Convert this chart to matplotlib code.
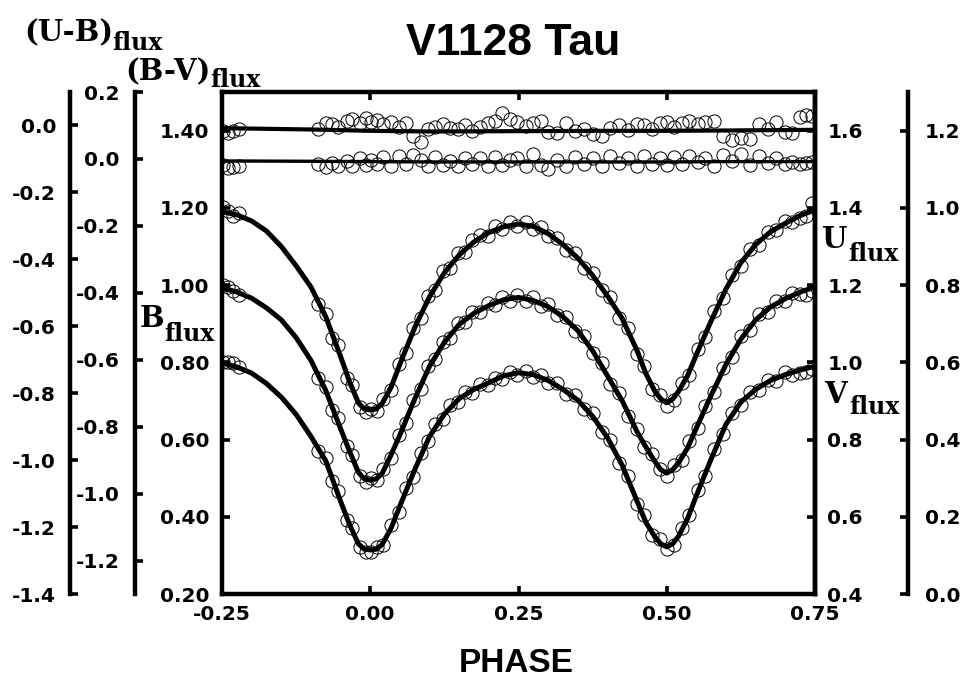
import matplotlib
matplotlib.use("Agg")
import matplotlib.pyplot as plt
from matplotlib.ticker import FixedLocator, FormatStrFormatter

# fitted light curves
fit_phase = [-0.25, -0.225, -0.2, -0.175, -0.15, -0.125, -0.1, -0.075, -0.05, -0.035,
             -0.02, -0.01, 0.0, 0.01, 0.02, 0.035, 0.05, 0.075, 0.1, 0.125, 0.15, 0.175,
             0.2, 0.225, 0.25, 0.275, 0.3, 0.325, 0.35, 0.375, 0.4, 0.425, 0.45, 0.465,
             0.48, 0.49, 0.5, 0.51, 0.52, 0.535, 0.55, 0.575, 0.6, 0.625, 0.65, 0.675,
             0.7, 0.725, 0.75]
fit_U = [1.390, 1.382, 1.366, 1.340, 1.300, 1.250, 1.195, 1.118, 1.015, 0.950,
         0.895, 0.879, 0.877, 0.879, 0.893, 0.935, 0.995, 1.090, 1.170, 1.232, 1.278, 1.312,
         1.336, 1.351, 1.358, 1.352, 1.333, 1.305, 1.270, 1.225, 1.172, 1.113, 1.030, 0.970,
         0.925, 0.905, 0.895, 0.905, 0.925, 0.965, 1.020, 1.108, 1.190, 1.258, 1.305, 1.338,
         1.360, 1.380, 1.395]
fit_B = [0.993, 0.982, 0.966, 0.941, 0.910, 0.864, 0.805, 0.727, 0.628, 0.570,
         0.515, 0.498, 0.495, 0.498, 0.512, 0.560, 0.612, 0.705, 0.790, 0.852, 0.898, 0.927,
         0.947, 0.962, 0.968, 0.960, 0.944, 0.918, 0.882, 0.830, 0.765, 0.700, 0.620, 0.580,
         0.543, 0.522, 0.513, 0.522, 0.540, 0.578, 0.630, 0.715, 0.795, 0.860, 0.910, 0.943,
         0.965, 0.982, 0.995]
fit_V = [0.598, 0.588, 0.572, 0.545, 0.510, 0.465, 0.408, 0.345, 0.240, 0.180,
         0.130, 0.116, 0.114, 0.116, 0.128, 0.170, 0.228, 0.322, 0.408, 0.466, 0.506, 0.530,
         0.547, 0.565, 0.573, 0.568, 0.553, 0.530, 0.502, 0.460, 0.405, 0.333, 0.240, 0.185,
         0.148, 0.130, 0.122, 0.130, 0.150, 0.195, 0.255, 0.350, 0.440, 0.497, 0.530, 0.553,
         0.568, 0.580, 0.590]

color_phase = [-0.25, -0.1, 0.0, 0.1, 0.25, 0.4, 0.5, 0.6, 0.75]
fit_UB = [-0.008, -0.012, -0.016, -0.018, -0.017, -0.016, -0.016, -0.015, -0.013]
fit_BV = [-0.006, -0.007, -0.008, -0.009, -0.009, -0.009, -0.009, -0.008, -0.008]

# observations
obs_phase = [-0.248, -0.240, -0.232, -0.222, -0.088, -0.075, -0.064, -0.055, -0.040, -0.030,
             -0.018, -0.008, 0.002, 0.012, 0.022, 0.035, 0.048, 0.060, 0.072, 0.085,
             0.098, 0.110, 0.122, 0.135, 0.148, 0.160, 0.172, 0.185, 0.198, 0.210,
             0.222, 0.235, 0.248, 0.262, 0.275, 0.288, 0.300, 0.315, 0.330, 0.345,
             0.360, 0.375, 0.390, 0.405, 0.420, 0.435, 0.450, 0.462, 0.475, 0.488,
             0.500, 0.512, 0.525, 0.538, 0.552, 0.565, 0.580, 0.595, 0.610, 0.625,
             0.640, 0.655, 0.670, 0.685, 0.700, 0.712, 0.725, 0.735, 0.745]
obs_U = [1.401, 1.392, 1.380, 1.386, 1.150, 1.125, 1.062, 1.045, 0.960, 0.942,
         0.884, 0.872, 0.880, 0.874, 0.905, 0.928, 0.995, 1.025, 1.088, 1.115,
         1.172, 1.188, 1.236, 1.244, 1.284, 1.286, 1.318, 1.330, 1.328, 1.352,
         1.345, 1.363, 1.352, 1.364, 1.346, 1.350, 1.326, 1.322, 1.290, 1.284,
         1.245, 1.232, 1.186, 1.168, 1.116, 1.088, 1.022, 0.990, 0.932, 0.915,
         0.888, 0.902, 0.946, 0.968, 1.035, 1.066, 1.132, 1.166, 1.226, 1.250,
         1.294, 1.305, 1.338, 1.342, 1.366, 1.364, 1.374, 1.380, 1.412]
obs_B = [1.000, 0.995, 0.984, 0.975, 0.760, 0.735, 0.676, 0.656, 0.582, 0.560,
         0.506, 0.491, 0.500, 0.494, 0.525, 0.552, 0.612, 0.642, 0.702, 0.732,
         0.790, 0.808, 0.852, 0.864, 0.902, 0.904, 0.931, 0.929, 0.954, 0.948,
         0.968, 0.960, 0.975, 0.958, 0.968, 0.946, 0.950, 0.922, 0.918, 0.882,
         0.868, 0.824, 0.798, 0.745, 0.720, 0.661, 0.628, 0.581, 0.563, 0.524,
         0.506, 0.533, 0.546, 0.595, 0.630, 0.688, 0.724, 0.786, 0.814, 0.867,
         0.884, 0.924, 0.930, 0.958, 0.958, 0.980, 0.976, 0.975, 0.985]
obs_V = [0.602, 0.600, 0.598, 0.588, 0.370, 0.352, 0.292, 0.268, 0.192, 0.170,
         0.121, 0.110, 0.108, 0.122, 0.128, 0.178, 0.212, 0.274, 0.304, 0.364,
         0.395, 0.440, 0.452, 0.490, 0.496, 0.524, 0.520, 0.545, 0.540, 0.560,
         0.557, 0.575, 0.566, 0.578, 0.562, 0.566, 0.546, 0.546, 0.517, 0.515,
         0.478, 0.468, 0.420, 0.398, 0.340, 0.305, 0.232, 0.204, 0.152, 0.142,
         0.116, 0.128, 0.172, 0.204, 0.270, 0.305, 0.376, 0.414, 0.470, 0.490,
         0.524, 0.528, 0.554, 0.552, 0.575, 0.568, 0.572, 0.576, 0.582]
obs_UB = [-0.018, -0.022, -0.016, -0.012, -0.010, 0.008, 0.004, -0.006, 0.012, 0.020,
          0.006, 0.022, 0.010, 0.016, 0.004, 0.010, -0.004, 0.006, -0.030, -0.050,
          -0.012, -0.006, 0.004, -0.008, -0.010, 0.002, -0.016, -0.004, 0.006, 0.014,
          0.036, 0.018, 0.010, -0.002, 0.008, 0.012, -0.020, -0.024, 0.006, -0.018,
          -0.010, -0.026, -0.030, -0.008, 0.000, -0.014, 0.004, 0.002, -0.010, 0.006,
          0.010, -0.004, 0.008, 0.012, 0.004, 0.010, 0.014, -0.030, -0.044, -0.036,
          -0.040, 0.004, -0.012, 0.010, -0.020, -0.022, 0.024, 0.030, 0.028]
obs_BV = [-0.018, -0.028, -0.024, -0.022, -0.016, -0.024, -0.012, -0.020, -0.006, -0.022,
          0.004, -0.018, -0.002, -0.016, 0.006, -0.020, 0.008, -0.014, 0.012, -0.004,
          -0.020, 0.006, -0.018, -0.006, -0.022, 0.004, -0.016, 0.002, -0.020, 0.006,
          -0.018, -0.004, 0.004, -0.022, 0.014, -0.018, -0.030, -0.002, -0.020, 0.006,
          -0.016, 0.002, -0.022, 0.008, -0.012, 0.004, -0.020, 0.008, -0.016, 0.002,
          -0.018, 0.006, -0.014, 0.010, -0.008, 0.004, -0.020, 0.012, -0.006, 0.014,
          -0.018, 0.010, -0.012, 0.004, -0.016, -0.010, -0.014, -0.012, -0.008]

plt.rcParams['font.family'] = ['DejaVu Sans']
plt.rcParams['font.weight'] = 'bold'

W, H = 969, 682
fig = plt.figure(figsize=(W / 100, H / 100), dpi=100)
x0, x1, y0, y1 = 222, 815, 92, 594
ax = fig.add_axes([x0 / W, 1 - y1 / H, (x1 - x0) / W, (y1 - y0) / H])
ax_u = ax.twinx()
ax_v = ax.twinx()
ax_bv = ax.twinx()
ax_ub = ax.twinx()

spine_w = 3.2
tick_kw = dict(direction='in', length=6, width=2.6, labelsize=14.5, pad=9)
mk = dict(marker='o', ms=9.5, mfc='none', mec='black', mew=0.7, ls='none', zorder=2)
ln = dict(color='black', solid_capstyle='butt', zorder=3)

# main frame: B flux and phase
ax.set_xlim(-0.25, 0.75)
ax.set_ylim(0.2, 1.5)
ax.plot(obs_phase, obs_B, **mk)
ax.plot(fit_phase, fit_B, lw=3.6, **ln)
ax.xaxis.set_major_locator(FixedLocator([-0.25, 0.0, 0.25, 0.5, 0.75]))
ax.xaxis.set_major_formatter(FormatStrFormatter('%.2f'))
ax.yaxis.set_major_locator(FixedLocator([0.2, 0.4, 0.6, 0.8, 1.0, 1.2, 1.4]))
ax.yaxis.set_major_formatter(FormatStrFormatter('%.2f'))
ax.tick_params(axis='both', **tick_kw)
ax.tick_params(axis='x', top=True, pad=8)
for s in ax.spines.values():
    s.set_linewidth(spine_w)

# U flux on the inner right axis
ax_u.set_ylim(0.4, 1.7)
ax_u.plot(obs_phase, obs_U, **mk)
ax_u.plot(fit_phase, fit_U, lw=3.6, **ln)
ax_u.yaxis.set_major_locator(FixedLocator([0.4, 0.6, 0.8, 1.0, 1.2, 1.4, 1.6]))
ax_u.yaxis.set_major_formatter(FormatStrFormatter('%.1f'))
ax_u.tick_params(axis='y', **tick_kw)

# V flux on the outer right axis
ax_v.set_ylim(0.0, 1.3)
ax_v.plot(obs_phase, obs_V, **mk)
ax_v.plot(fit_phase, fit_V, lw=3.6, **ln)
ax_v.spines['right'].set_position(('axes', (908 - x0) / (x1 - x0)))
ax_v.yaxis.set_major_locator(FixedLocator([0.0, 0.2, 0.4, 0.6, 0.8, 1.0, 1.2]))
ax_v.yaxis.set_major_formatter(FormatStrFormatter('%.1f'))
ax_v.tick_params(axis='y', **tick_kw)
ax_v.tick_params(axis='y', pad=12)

# (B-V) on the inner left axis
ax_bv.set_ylim(-1.3, 0.2)
ax_bv.plot(obs_phase, obs_BV, **mk)
ax_bv.plot(color_phase, fit_BV, lw=2.4, **ln)
ax_bv.yaxis.tick_left()
ax_bv.yaxis.set_label_position('left')
ax_bv.spines['left'].set_position(('axes', (135 - x0) / (x1 - x0)))
ax_bv.yaxis.set_major_locator(FixedLocator([0.2, 0.0, -0.2, -0.4, -0.6, -0.8, -1.0, -1.2]))
ax_bv.yaxis.set_major_formatter(FormatStrFormatter('%.1f'))
ax_bv.tick_params(axis='y', **tick_kw)
ax_bv.tick_params(axis='y', pad=11)

# (U-B) on the outer left axis
ax_ub.set_ylim(-1.4, 0.1)
ax_ub.plot(obs_phase, obs_UB, **mk)
ax_ub.plot(color_phase, fit_UB, lw=3.0, **ln)
ax_ub.yaxis.tick_left()
ax_ub.yaxis.set_label_position('left')
ax_ub.spines['left'].set_position(('axes', (70 - x0) / (x1 - x0)))
ax_ub.yaxis.set_major_locator(FixedLocator([0.0, -0.2, -0.4, -0.6, -0.8, -1.0, -1.2, -1.4]))
ax_ub.yaxis.set_major_formatter(FormatStrFormatter('%.1f'))
ax_ub.tick_params(axis='y', **tick_kw)
ax_ub.tick_params(axis='y', pad=10)

for a, keep in [(ax_u, 'right'), (ax_v, 'right'), (ax_bv, 'left'), (ax_ub, 'left')]:
    for name, s in a.spines.items():
        s.set_visible(name == keep)
        s.set_linewidth(spine_w)


def px_text(x, y, s, **kw):
    fig.text(x / W, 1 - y / H, s, ha='left', va='baseline', **kw)


serif = dict(family='DejaVu Serif', weight='bold')
px_text(24, 41, '(U-B)', size=21, **serif)
px_text(112, 50, 'flux', size=17, **serif)
px_text(125, 80, '(B-V)', size=21, **serif)
px_text(210, 87, 'flux', size=17, **serif)
px_text(140, 327, 'B', size=21, **serif)
px_text(164, 341, 'flux', size=17, **serif)
px_text(822, 248, 'U', size=21, **serif)
px_text(848, 261, 'flux', size=17, **serif)
px_text(824, 403, 'V', size=21, **serif)
px_text(849, 414, 'flux', size=17, **serif)

fig.text(513 / W, 1 - 55 / H, 'V1128 Tau', ha='center', va='baseline',
         family='Liberation Sans', weight='bold', size=32)
fig.text(516 / W, 1 - 672 / H, 'PHASE', ha='center', va='baseline',
         family='Liberation Sans', weight='bold', size=24)

fig.savefig('out.png', dpi=100)
